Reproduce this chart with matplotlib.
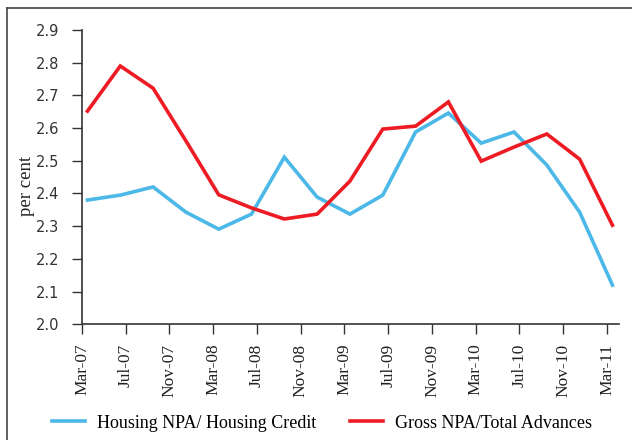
import numpy as np
import matplotlib.pyplot as plt
from matplotlib.lines import Line2D

# quarterly observations
quarters = ["Mar-07", "Jun-07", "Sep-07", "Dec-07", "Mar-08", "Jun-08", "Sep-08", "Dec-08",
            "Mar-09", "Jun-09", "Sep-09", "Dec-09", "Mar-10", "Jun-10", "Sep-10", "Dec-10", "Mar-11"]
housing_npa = [2.38, 2.395, 2.42, 2.343, 2.291, 2.337, 2.511, 2.389,
               2.337, 2.395, 2.588, 2.646, 2.554, 2.588, 2.487, 2.343, 2.12]
gross_npa = [2.652, 2.79, 2.722, 2.561, 2.396, 2.356, 2.322, 2.337,
             2.438, 2.597, 2.606, 2.68, 2.499, 2.542, 2.582, 2.505, 2.303]
tick_labels = ["Mar-07", "Jul-07", "Nov-07", "Mar-08", "Jul-08", "Nov-08", "Mar-09",
               "Jul-09", "Nov-09", "Mar-10", "Jul-10", "Nov-10", "Mar-11"]

month_no = {"Jan": 1, "Feb": 2, "Mar": 3, "Apr": 4, "May": 5, "Jun": 6,
            "Jul": 7, "Aug": 8, "Sep": 9, "Oct": 10, "Nov": 11, "Dec": 12}

def month_index(lbl):
    m, y = lbl.split("-")
    return (int(y) - 7) * 12 + month_no[m] - 3

x_data = [month_index(q) + 0.5 for q in quarters]
x_ticks = [month_index(t) for t in tick_labels]

W, H = 632, 440
fig = plt.figure(figsize=(W / 100, H / 100), dpi=100)
ax = fig.add_axes([82 / W, 1 - 324.3 / H, (619 - 82) / W, (324.3 - 30) / H])

blue = "#4BB8E8"
red = "#ED1C24"
l1, = ax.plot(x_data, housing_npa, color=blue, lw=2.6, solid_joinstyle="miter")
l2, = ax.plot(x_data, gross_npa, color=red, lw=2.6, solid_joinstyle="miter")

ax.set_xlim(0, 49.1)
ax.set_ylim(2.0, 2.9)
ax.set_yticks(np.arange(2.0, 2.91, 0.1))
ax.set_yticklabels(["%.1f" % v for v in np.arange(2.0, 2.91, 0.1)],
                   family="DejaVu Sans", fontsize=10.5, color="#333333")
ax.set_xticks(x_ticks)
ax.set_xticklabels(tick_labels, rotation=90, family="Liberation Serif",
                   fontsize=12.5, color="#222222")

for s in ["top", "right"]:
    ax.spines[s].set_visible(False)
for s in ["left", "bottom"]:
    ax.spines[s].set_color("#333333")
    ax.spines[s].set_linewidth(1.2)
ax.tick_params(axis="y", length=7, width=1, color="#333333", pad=9.5)
ax.tick_params(axis="x", length=7, width=1, color="#333333", pad=7)

ax.set_ylabel("per cent", family="Liberation Serif", fontsize=13.5, color="#222222")
ax.yaxis.set_label_coords(-0.088, 0.47)

fig.legend([l1, l2], ["Housing NPA/ Housing Credit", "Gross NPA/Total Advances"],
           loc="center left", bbox_to_anchor=(36 / W, 1 - 423 / H), ncol=2,
           frameon=False, prop={"family": "Liberation Serif", "size": 13},
           handlelength=1.8, handletextpad=0.67, columnspacing=1.9)

# outer frame (left and top edges visible)
fig.add_artist(Line2D([7 / W, 7 / W], [0, 1 - 8 / H], transform=fig.transFigure,
                      color="#444444", lw=1.2))
fig.add_artist(Line2D([7 / W, 1], [1 - 8 / H, 1 - 8 / H], transform=fig.transFigure,
                      color="#444444", lw=1.2))

fig.savefig("out.png", dpi=100)
